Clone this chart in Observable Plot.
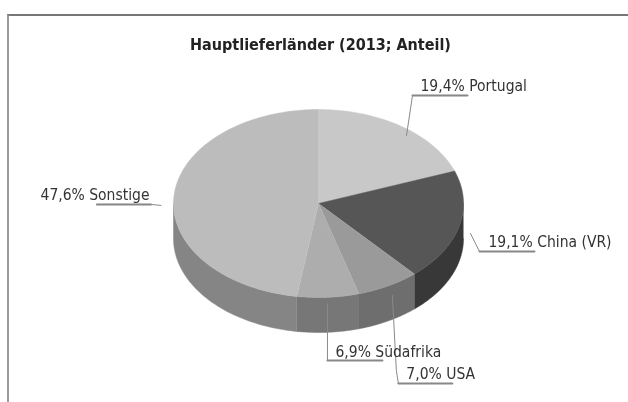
<!DOCTYPE html>
<html><head><meta charset="utf-8">
<script src="https://cdn.jsdelivr.net/npm/d3@7"></script>
<script src="https://cdn.jsdelivr.net/npm/@observablehq/plot@0.6"></script>
<style>
html,body{margin:0;padding:0;background:#fff;overflow:hidden}
#wrap{position:relative;width:628px;height:402px;filter:blur(0.55px)}
#edge{position:absolute;left:7px;top:14px;right:-5px;bottom:-5px;border-top:2px solid #777;border-left:2px solid #999}
#chart{position:absolute;left:0;top:0}
</style></head><body>
<div id="wrap"><div id="chart"></div><div id="edge"></div></div>
<script>
const chartTitle = "Hauptlieferländer (2013; Anteil)";
const countries = ["Portugal","China (VR)","USA","Südafrika","Sonstige"];
const shares = [19.4,19.1,7.0,6.9,47.6];
const shareLabels = ["19,4%","19,1%","7,0%","6,9%","47,6%"];
const topColors = ["#c8c8c8","#565656","#9a9a9a","#adadad","#bcbcbc"];
const sideColors = ["#9a9a9a","#383838","#6e6e6e","#777777","#858585"];

// layout, in pixels relative to each slice's rim point
const rx = 145, ry = 94, depth = 35 / ry;
const leaderOffsets = [
  [[5,9],[11,-31],[66,-31]],
  [[11.4,6.9],[20.4,24.9],[75.4,24.9]],
  [[4,9.6],[8,84.6],[10,97.6],[64,97.6]],
  [[-0.6,6.2],[-0.6,63.2],[54.4,63.2]],
  [[-13,9],[-23,8],[-77,8]]
];
const labelOffsets = [[19,-40],[29.4,15],[18,88.6],[7.4,55.2],[-133.4,-1]];

const total = d3.sum(shares);
let cum = 0;
const slices = countries.map((c,i)=>{
  const a0 = cum/total*2*Math.PI; cum += shares[i];
  const a1 = cum/total*2*Math.PI;
  return {c,i,a0,a1,mid:(a0+a1)/2};
});
const rim = (a,dy=0)=>({x:Math.sin(a),y:Math.cos(a)-dy});
const arc = (a0,a1,dy=0)=>{
  const n = Math.max(2,Math.ceil((a1-a0)/0.02));
  return d3.range(n+1).map(k=>rim(a0+(a1-a0)*k/n,dy));
};
const sides = [], tops = [];
for(const s of slices){
  const lo = Math.max(s.a0,Math.PI/2), hi = Math.min(s.a1,Math.PI*1.5);
  if(hi>lo){
    [...arc(lo,hi),...arc(lo,hi,depth).reverse()].forEach(p=>sides.push({...p,key:s.c,color:sideColors[s.i]}));
  }
  [{x:0,y:0},...arc(s.a0,s.a1)].forEach(p=>tops.push({...p,key:s.c,color:topColors[s.i]}));
}
const shift = (s,[dx,dy])=>{const p=rim(s.mid);return {x:p.x+dx/rx,y:p.y-dy/ry};};
const leaders = slices.flatMap(s=>leaderOffsets[s.i].map(o=>({...shift(s,o),key:s.c})));
// the horizontal underline of each leader is the last segment
const underlines = slices.flatMap(s=>leaderOffsets[s.i].slice(-2).map(o=>({...shift(s,o),key:s.c})));
const labels = slices.map(s=>({...shift(s,labelOffsets[s.i]),text:shareLabels[s.i]+" "+s.c}));

const font = "'DejaVu Sans Condensed','DejaVu Sans',sans-serif";
const plot = Plot.plot({
  width:628,height:402,margin:0,
  style:{background:"#fff",fontFamily:font},
  x:{domain:[-1,1],range:[173,463],axis:null},
  y:{domain:[-1,1],range:[297,109],axis:null},
  marks:[
    Plot.line(sides,{x:"x",y:"y",z:"key",fill:"color",stroke:"color",strokeWidth:0.5,curve:"linear"}),
    Plot.line(tops,{x:"x",y:"y",z:"key",fill:"color",stroke:"color",strokeWidth:0.5,curve:"linear"}),
    Plot.line(leaders,{x:"x",y:"y",z:"key",stroke:"#8a8a8a",strokeWidth:1,curve:"linear"}),
    Plot.line(underlines,{x:"x",y:"y",z:"key",stroke:"#888",strokeWidth:2,curve:"linear"}),
    Plot.text(labels,{x:"x",y:"y",text:"text",textAnchor:"start",lineAnchor:"middle",fontSize:15.5,fill:"#333"}),
    Plot.text([chartTitle],{frameAnchor:"top",dx:6,dy:44,lineAnchor:"middle",fontSize:16,fontWeight:"bold",fill:"#222"})
  ]
});
document.getElementById("chart").appendChild(plot);
</script></body></html>
